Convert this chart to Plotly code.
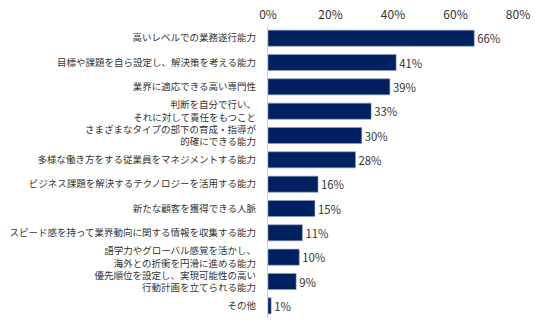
import plotly.graph_objects as go

# Survey items (top to bottom) and share of responses in percent
categories = [
    "高いレベルでの業務遂行能力",
    "目標や課題を自ら設定し、解決策を考える能力",
    "業界に適応できる高い専門性",
    "判断を自分で行い、<br>それに対して責任をもつこと",
    "さまざまなタイプの部下の育成・指導が<br>的確にできる能力",
    "多様な働き方をする従業員をマネジメントする能力",
    "ビジネス課題を解決するテクノロジーを活用する能力",
    "新たな顧客を獲得できる人脈",
    "スピード感を持って業界動向に関する情報を収集する能力",
    "語学力やグローバル感覚を活かし、<br>海外との折衝を円滑に進める能力",
    "優先順位を設定し、実現可能性の高い<br>行動計画を立てられる能力",
    "その他",
]
values = [66, 41, 39, 33, 30, 28, 16, 15, 11, 10, 9, 1]
x_ticks = [0, 20, 40, 60, 80]
x_tick_labels = ["0%", "20%", "40%", "60%", "80%"]

font_family = "Noto Sans CJK JP, Noto Sans, sans-serif"

fig = go.Figure(
    go.Bar(
        x=values,
        y=categories,
        orientation="h",
        marker=dict(color="#002060", line=dict(color="#8fa0c0", width=0.6)),
        text=[f"{v}%" for v in values],
        textposition="outside",
        textfont=dict(size=12, color="#333333", family=font_family),
        cliponaxis=False,
    )
)

fig.update_layout(
    width=536,
    height=328,
    margin=dict(l=268, r=18, t=26, b=10, autoexpand=False),
    paper_bgcolor="white",
    plot_bgcolor="white",
    bargap=0.34,
    showlegend=False,
    font=dict(family=font_family, color="#333333"),
)

fig.update_xaxes(
    side="top",
    range=[0, 80],
    tickvals=x_ticks,
    ticktext=x_tick_labels,
    showgrid=False,
    zeroline=False,
    showline=False,
    ticks="",
    ticklabelstandoff=4,
    automargin=False,
    tickfont=dict(size=12, color="#333333"),
)

fig.update_yaxes(
    autorange="reversed",
    showgrid=False,
    showline=True,
    linecolor="#d0d0d0",
    linewidth=1,
    ticks="",
    ticklabelstandoff=9,
    automargin=False,
    tickfont=dict(size=9.5, color="#333333"),
)

fig.write_html("out.html")
